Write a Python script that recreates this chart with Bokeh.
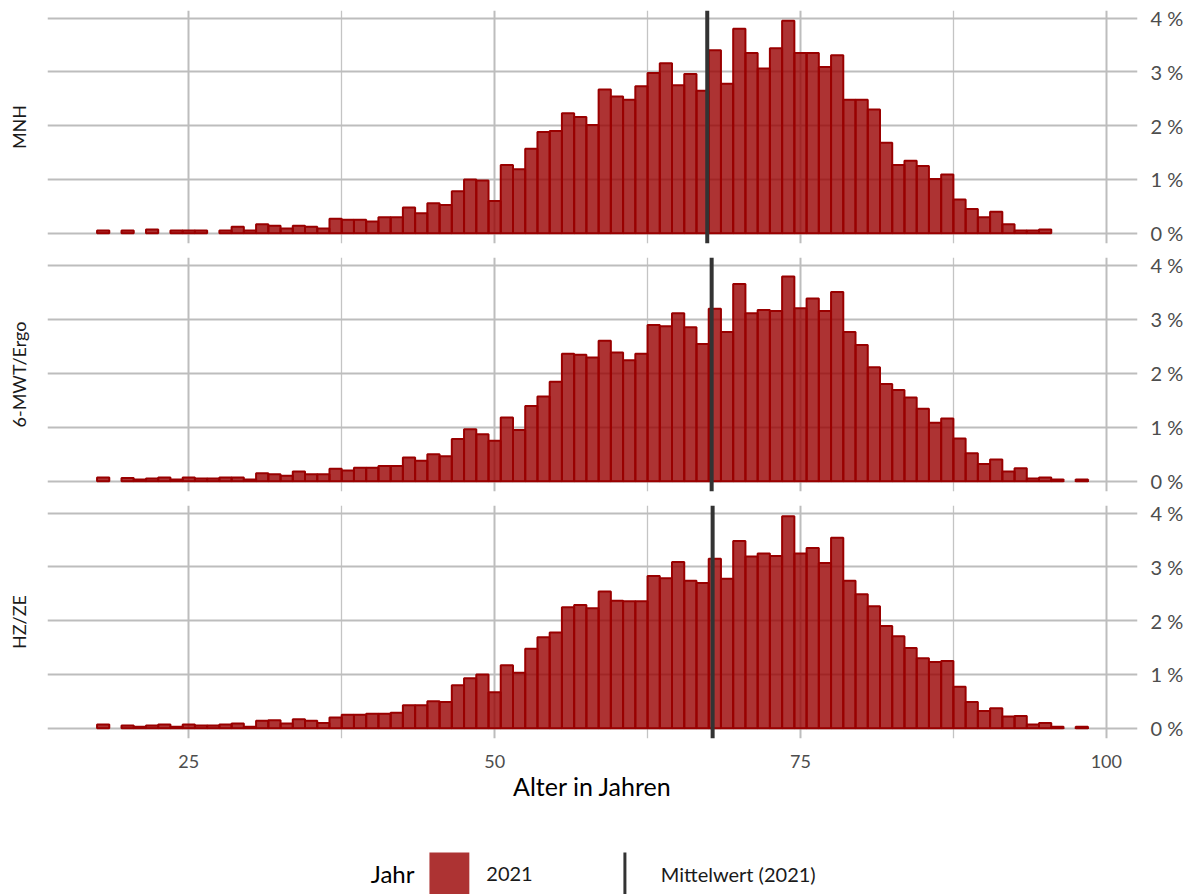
from bokeh.plotting import figure
from bokeh.layouts import column
from bokeh.models import Range1d, FixedTicker, Span, Label, LinearAxis
from bokeh.embed import file_html
from bokeh.resources import INLINE

FONT = "Lato"
BAR = "#990000"

panel_labels = ["MNH", "6-MWT/Ergo", "HZ/ZE"]

ages_mnh = [18, 20, 22, 24, 25, 26] + list(range(28, 96))
vals_mnh = [0.05, 0.05, 0.07, 0.05, 0.05, 0.05,
            0.05, 0.12, 0.05, 0.17, 0.14, 0.09, 0.14, 0.12, 0.09, 0.27,
            0.25, 0.25, 0.22, 0.30, 0.30, 0.48, 0.37, 0.56, 0.525, 0.78,
            1.00, 0.98, 0.60, 1.27, 1.19, 1.57, 1.88, 1.90, 2.23, 2.16,
            2.01, 2.67, 2.54, 2.48, 2.73, 2.98, 3.16, 2.75, 2.96, 2.65,
            3.40, 2.78, 3.80, 3.35, 3.06, 3.44, 3.95, 3.35, 3.35, 3.09,
            3.31, 2.48, 2.48, 2.30, 1.68, 1.27, 1.35, 1.25, 1.01, 1.09,
            0.63, 0.45, 0.30, 0.40, 0.17, 0.05, 0.05, 0.07]

ages_mwt = [18] + list(range(20, 97)) + [98]
vals_mwt = [0.07,
            0.06, 0.03, 0.05, 0.07, 0.03, 0.07, 0.05, 0.05, 0.07, 0.07,
            0.03, 0.15, 0.13, 0.10, 0.18, 0.13, 0.13, 0.23, 0.20, 0.25,
            0.25, 0.28, 0.28, 0.44, 0.38, 0.50, 0.46, 0.78, 0.96, 0.87,
            0.75, 1.18, 0.95, 1.39, 1.57, 1.84, 2.36, 2.34, 2.29, 2.60,
            2.38, 2.24, 2.36, 2.89, 2.87, 3.11, 2.85, 2.54, 3.19, 2.76,
            3.65, 3.11, 3.17, 3.15, 3.79, 3.20, 3.38, 3.15, 3.50, 2.76,
            2.52, 2.11, 1.80, 1.69, 1.55, 1.34, 1.08, 1.16, 0.79, 0.52,
            0.32, 0.40, 0.18, 0.24, 0.05, 0.07, 0.03,
            0.03]

ages_hz = [18] + list(range(20, 97)) + [98]
vals_hz = [0.07,
           0.05, 0.03, 0.05, 0.07, 0.03, 0.07, 0.05, 0.05, 0.07, 0.09,
           0.03, 0.14, 0.15, 0.09, 0.17, 0.14, 0.10, 0.20, 0.25, 0.25,
           0.27, 0.27, 0.29, 0.43, 0.43, 0.50, 0.49, 0.80, 0.93, 1.00,
           0.67, 1.17, 1.03, 1.48, 1.69, 1.78, 2.25, 2.29, 2.23, 2.54,
           2.37, 2.36, 2.36, 2.83, 2.79, 3.09, 2.74, 2.70, 3.15, 2.78,
           3.48, 3.19, 3.25, 3.20, 3.94, 3.25, 3.35, 3.07, 3.54, 2.74,
           2.49, 2.27, 1.90, 1.71, 1.49, 1.30, 1.23, 1.25, 0.77, 0.49,
           0.32, 0.37, 0.22, 0.23, 0.07, 0.10, 0.03,
           0.03]

means = [67.38, 67.74, 67.82]

x_ticks = [25, 50, 75, 100]
x_minor = [37.5, 62.5, 87.5]
y_ticks = [0, 1, 2, 3, 4]
y_labels = {t: f"{t} %" for t in y_ticks}

X0, X1 = 13.45, 102.55
Y0, Y1 = -0.19, 4.14
x_range = Range1d(X0, X1)
W = 1186
BL, BR = 47, 46


def make_panel(label, ages, vals, mean, height, top, bottom, with_axis):
    p = figure(width=W, height=height, output_backend="svg",
               toolbar_location=None, x_range=x_range,
               y_range=Range1d(Y0, Y1), y_axis_location="right",
               min_border_left=BL, min_border_right=BR,
               min_border_top=top, min_border_bottom=bottom)
    p.outline_line_color = None
    p.background_fill_color = "white"
    p.border_fill_color = "white"

    p.xgrid.ticker = FixedTicker(ticks=x_ticks, minor_ticks=x_minor)
    p.xgrid.grid_line_color = "#bdbdbd"
    p.xgrid.grid_line_width = 2
    p.xgrid.minor_grid_line_color = "#c4c4c4"
    p.xgrid.minor_grid_line_width = 1.3
    p.ygrid.ticker = FixedTicker(ticks=y_ticks)
    p.ygrid.grid_line_color = "#bdbdbd"
    p.ygrid.grid_line_width = 2

    p.vbar(x=ages, top=vals, bottom=0, width=1,
           fill_color=BAR, fill_alpha=0.8,
           line_color=BAR, line_width=2)

    p.add_layout(Span(location=mean, dimension="height",
                      line_color="#333333", line_width=4))

    ya = p.yaxis[0]
    ya.ticker = FixedTicker(ticks=y_ticks)
    ya.major_label_overrides = y_labels
    ya.major_label_text_font = FONT
    ya.major_label_text_font_size = "20px"
    ya.major_label_text_color = "#4d4d4d"
    ya.major_label_standoff = 7
    ya.axis_line_color = None
    ya.major_tick_line_color = None
    ya.minor_tick_line_color = None

    xa = p.xaxis[0]
    if with_axis:
        xa.ticker = FixedTicker(ticks=x_ticks)
        xa.major_label_text_font = FONT
        xa.major_label_text_font_size = "18px"
        xa.major_label_text_color = "#4d4d4d"
        xa.major_label_standoff = 10
        xa.axis_line_color = None
        xa.major_tick_line_color = None
        xa.minor_tick_line_color = None
        xa.axis_label = "Alter in Jahren"
        xa.axis_label_text_font = FONT
        xa.axis_label_text_font_size = "25px"
        xa.axis_label_text_font_style = "normal"
        xa.axis_label_text_color = "#000000"
        xa.axis_label_standoff = 0
    else:
        xa.visible = False

    # facet strip label: a tickless left axis that only carries a label
    strip = LinearAxis(ticker=FixedTicker(ticks=[]), axis_label=label,
                       axis_line_color=None, major_tick_line_color=None,
                       minor_tick_line_color=None, major_tick_out=0,
                       minor_tick_out=0, major_tick_in=0, minor_tick_in=0,
                       major_label_standoff=0, axis_label_standoff=18,
                       axis_label_text_font=FONT,
                       axis_label_text_font_size="18px",
                       axis_label_text_font_style="normal",
                       axis_label_text_color="#1a1a1a")
    p.add_layout(strip, "left")
    return p


p1 = make_panel(panel_labels[0], ages_mnh, vals_mnh, means[0], 250, 10, 7, False)
p2 = make_panel(panel_labels[1], ages_mwt, vals_mwt, means[1], 248, 7, 7, False)
p3 = make_panel(panel_labels[2], ages_hz, vals_hz, means[2], 350, 7, 110, True)

# legend strip (frame aligned with the panels; data units = page pixels)
LH = 46
leg = figure(width=W, height=LH, output_backend="svg", toolbar_location=None,
             x_range=Range1d(BL, W - BR), y_range=Range1d(0, LH),
             x_axis_location=None, y_axis_location=None,
             min_border_left=BL, min_border_right=BR,
             min_border_top=0, min_border_bottom=0)
leg.grid.visible = False
leg.outline_line_color = None
leg.quad(left=[430], right=[470], bottom=[0], top=[42],
         fill_color=BAR, fill_alpha=0.8, line_color=None)
leg.segment(x0=[626], x1=[626], y0=[0], y1=[42], line_color="#333333", line_width=3)
leg.add_layout(Label(x=415, y=21, text="Jahr", text_align="right",
                     text_baseline="middle", text_font=FONT,
                     text_font_size="24px", text_color="#000000"))
leg.add_layout(Label(x=487, y=21, text="2021", text_align="left",
                     text_baseline="middle", text_font=FONT,
                     text_font_size="20px", text_color="#1a1a1a"))
leg.add_layout(Label(x=662, y=21, text="Mittelwert (2021)", text_align="left",
                     text_baseline="middle", text_font=FONT,
                     text_font_size="20px", text_color="#1a1a1a"))

layout = column(p1, p2, p3, leg, spacing=0)
open("out.html", "w").write(file_html(layout, INLINE))
